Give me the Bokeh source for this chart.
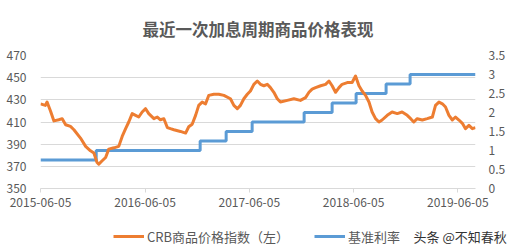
import pandas as pd
from bokeh.plotting import figure
from bokeh.layouts import column
from bokeh.models import (Range1d, LinearAxis, FixedTicker, DatetimeTickFormatter,
                          CustomJSTickFormatter, Legend, LegendItem, Label)
from bokeh.embed import file_html
from bokeh.resources import INLINE

# ---- data ----
crb_dates = ["2015-06-05","2015-06-22","2015-06-28","2015-07-10","2015-07-22","2015-08-08","2015-08-20",
             "2015-09-01","2015-09-18","2015-09-30","2015-10-23","2015-11-10","2015-11-27","2015-12-09",
             "2015-12-20","2015-12-26","2016-01-07","2016-01-19","2016-01-30","2016-02-17","2016-03-05",
             "2016-03-17","2016-03-29","2016-04-09","2016-04-21","2016-05-03","2016-05-14","2016-05-26",
             "2016-06-07","2016-06-18","2016-07-06","2016-07-18","2016-07-29","2016-08-10","2016-08-22",
             "2016-09-02","2016-09-14","2016-10-07","2016-10-25","2016-11-05","2016-11-17","2016-11-29",
             "2016-12-10","2016-12-22","2017-01-03","2017-01-14","2017-02-01","2017-02-18","2017-03-08",
             "2017-03-31","2017-04-12","2017-04-24","2017-05-05","2017-05-17","2017-05-29","2017-06-09",
             "2017-06-21","2017-07-03","2017-07-14","2017-07-26","2017-08-07","2017-08-18","2017-08-30",
             "2017-09-11","2017-09-22","2017-10-16","2017-11-08","2017-12-01","2017-12-19","2017-12-31",
             "2018-01-11","2018-01-23","2018-02-10","2018-02-27","2018-03-11","2018-03-22","2018-04-03",
             "2018-04-15","2018-04-26","2018-05-14","2018-05-31","2018-06-12","2018-06-24","2018-07-05",
             "2018-07-17","2018-07-29","2018-08-09","2018-08-21","2018-09-02","2018-09-13","2018-10-01",
             "2018-10-18","2018-11-05","2018-11-22","2018-12-10","2018-12-22","2019-01-02","2019-01-14",
             "2019-02-01","2019-02-18","2019-03-08","2019-03-19","2019-03-31","2019-04-12","2019-04-23",
             "2019-05-05","2019-05-17","2019-05-28","2019-06-09","2019-06-21","2019-07-02","2019-07-14",
             "2019-07-26","2019-08-06"]
crb_values = [426.4, 425.0, 428.0, 420.0, 411.0, 412.0, 413.0,
              407.5, 406.0, 403.0, 395.5, 388.0, 384.0, 382.0,
              373.5, 372.0, 375.0, 378.0, 385.5, 386.7, 388.0,
              397.0, 404.0, 410.0, 417.6, 416.0, 414.5, 419.0,
              422.0, 417.6, 413.0, 414.5, 412.0, 413.0, 405.0,
              404.0, 403.0, 401.5, 400.0, 405.7, 408.0, 416.0,
              425.0, 428.0, 426.4, 434.0, 435.0, 435.0, 434.0,
              431.0, 425.0, 422.0, 425.0, 431.0, 435.0, 438.0,
              444.0, 447.0, 444.0, 442.7, 444.0, 441.0, 436.8,
              431.0, 428.0, 429.5, 431.0, 429.5, 432.0, 436.8,
              439.7, 441.0, 442.7, 444.0, 447.0, 442.7, 436.8,
              441.0, 444.0, 445.6, 445.6, 451.5, 442.7, 438.0,
              434.0, 428.0, 419.0, 413.0, 410.0, 411.8, 416.0,
              419.0, 417.6, 419.0, 416.0, 413.0, 410.0, 413.0,
              411.8, 413.0, 414.5, 425.0, 428.0, 426.4, 423.5,
              416.0, 411.8, 414.5, 411.8, 408.8, 404.0, 407.0,
              404.0, 405.0]

rate_dates = ["2015-06-05","2015-12-17","2016-12-15","2017-03-16","2017-06-15","2017-12-14",
              "2018-03-22","2018-06-14","2018-09-27","2018-12-20","2019-08-06"]
rate_values = [0.75, 1.0, 1.25, 1.5, 1.75, 2.0, 2.25, 2.5, 2.75, 3.0, 3.0]

x_tick_labels = ["2015-06-05","2016-06-05","2017-06-05","2018-06-05","2019-06-05"]
left_ticks = [350, 370, 390, 410, 430, 450, 470]
right_ticks = [0, 0.5, 1, 1.5, 2, 2.5, 3, 3.5]

title_text = "最近一次加息周期商品价格表现"
crb_label = "CRB商品价格指数（左）"
rate_label = "基准利率"
watermark = "头条 @不知春秋"

# ---- build ----
crb_x = pd.to_datetime(crb_dates)
rate_x = pd.to_datetime(rate_dates)
tick_ms = [pd.Timestamp(d).value / 1e6 for d in x_tick_labels]

GRAY = "#595959"
ORANGE = "#ed7d31"
BLUE = "#5b9bd5"
CJK = "Noto Sans CJK SC"

p = figure(width=515, height=216, output_backend="svg", toolbar_location=None,
           x_axis_type="datetime",
           x_range=Range1d(pd.Timestamp("2015-06-05"), pd.Timestamp("2019-08-06")),
           y_range=Range1d(350, 470),
           min_border_left=40, min_border_right=40, min_border_top=52, min_border_bottom=28)
p.extra_y_ranges = {"right": Range1d(0, 3.5)}
p.outline_line_color = None
p.background_fill_color = "white"
p.border_fill_color = "white"

p.title.text = title_text
p.title.align = "center"
p.title.text_font = CJK
p.title.text_font_size = "16.5px"
p.title.text_font_style = "bold"
p.title.text_color = GRAY
p.title.standoff = 29

# axes
xa = p.xaxis[0]
xa.ticker = FixedTicker(ticks=tick_ms)
xa.formatter = DatetimeTickFormatter(days="%Y-%m-%d", months="%Y-%m-%d", years="%Y-%m-%d")
xa.axis_line_color = "#d9d9d9"
xa.major_tick_line_color = "#d9d9d9"
xa.major_tick_out = 4
xa.major_tick_in = 0
xa.minor_tick_line_color = None
xa.major_label_text_font = CJK
xa.major_label_text_font_size = "12px"
xa.major_label_text_color = GRAY
xa.major_label_standoff = 5

ya = p.yaxis[0]
ya.ticker = FixedTicker(ticks=left_ticks)
ya.axis_line_color = None
ya.major_tick_line_color = None
ya.minor_tick_line_color = None
ya.major_label_text_font = CJK
ya.major_label_text_font_size = "12px"
ya.major_label_text_color = GRAY
ya.major_label_standoff = 8

ra = LinearAxis(y_range_name="right", ticker=FixedTicker(ticks=right_ticks),
                formatter=CustomJSTickFormatter(code="return tick.toString();"))
ra.axis_line_color = None
ra.major_tick_line_color = None
ra.minor_tick_line_color = None
ra.major_label_text_font = CJK
ra.major_label_text_font_size = "12px"
ra.major_label_text_color = GRAY
ra.major_label_standoff = 7
p.add_layout(ra, "right")

p.xgrid.grid_line_color = None
p.ygrid.ticker = FixedTicker(ticks=left_ticks)
p.ygrid.grid_line_color = "#d9d9d9"
p.ygrid.grid_line_width = 1

p.step(rate_x, rate_values, mode="after", y_range_name="right",
       line_color=BLUE, line_width=3)
p.line(crb_x, crb_values, line_color=ORANGE, line_width=3, line_join="round")

# ---- legend strip (separate small figure so nothing is clipped) ----
lg = figure(width=515, height=36, output_backend="svg", toolbar_location=None,
            x_range=Range1d(0, 1), y_range=Range1d(0, 1),
            x_axis_location=None, y_axis_location=None,
            min_border_left=0, min_border_right=0, min_border_top=0, min_border_bottom=0)
if "frame_align" in lg.properties():
    lg.frame_align = False
lg.outline_line_color = None
lg.xgrid.grid_line_color = None
lg.ygrid.grid_line_color = None
lg.border_fill_color = "white"
lg.background_fill_color = "white"
# same series, outside this strip's view: only used to style the legend samples
d_crb = lg.line(crb_x, crb_values, line_color=ORANGE, line_width=3)
d_rate = lg.line(rate_x, rate_values, line_color=BLUE, line_width=3)

legend = Legend(items=[LegendItem(label=crb_label, renderers=[d_crb]),
                       LegendItem(label=rate_label, renderers=[d_rate])],
                orientation="horizontal", location=(113, 6),
                glyph_width=31, label_standoff=3, spacing=25,
                label_text_font=CJK, label_text_font_size="13px", label_text_color=GRAY,
                border_line_color=None, background_fill_alpha=0, padding=0, margin=0)
lg.add_layout(legend)

wm = Label(x=413, y=16, x_units="screen", y_units="screen", text=watermark,
           text_baseline="middle", text_font=CJK, text_font_size="13px", text_color="#333333")
lg.add_layout(wm)

layout = column(p, lg, spacing=0)
open("out.html", "w").write(file_html(layout, INLINE))
